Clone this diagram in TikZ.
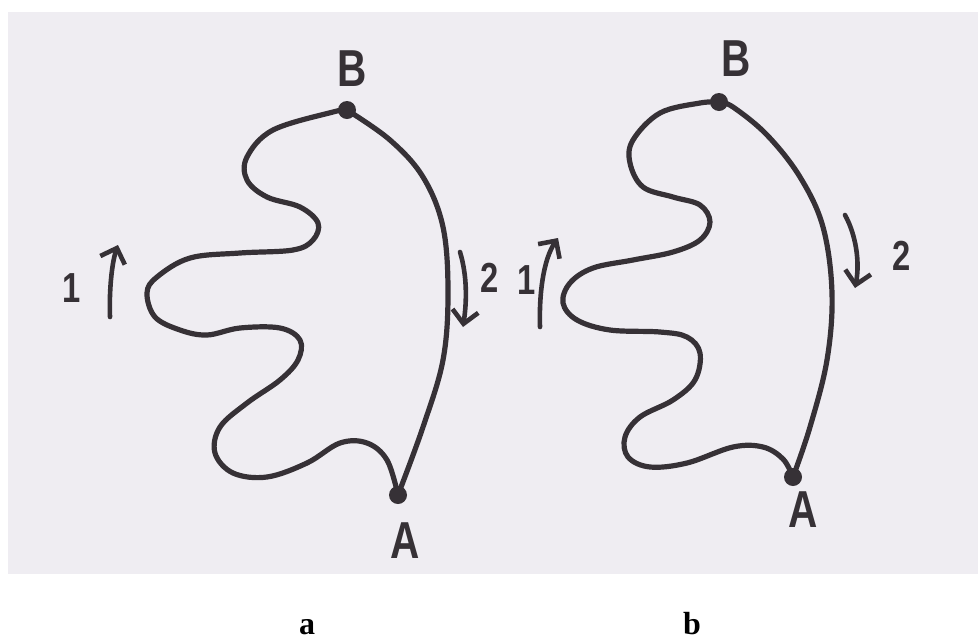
\documentclass[tikz,border=0pt]{standalone}
\usepackage{fontspec}
\setmainfont{Liberation Serif}
\newfontfamily\handfont[FakeStretch=0.78]{Liberation Sans}
\usepackage{tikz}
\usetikzlibrary{arrows.meta,positioning}
\definecolor{paperbg}{HTML}{EFEDF2}
\definecolor{ink}{HTML}{363136}
\tikzset{
  sketch/.style={
    x=1pt, y=-1pt,
    line cap=round,
    line join=round
  },
  loopline/.style={draw=ink, line width=5.2pt},
  enddot/.style={
    circle,
    fill=ink,
    minimum size=18pt,
    inner sep=0pt
  },
  handlabel/.style={
    font=\handfont\bfseries\fontsize{52}{52}\selectfont,
    text=ink,
    inner sep=0pt
  },
  numlabel/.style={
    font=\handfont\bfseries\fontsize{42}{42}\selectfont,
    text=ink,
    inner sep=0pt
  },
  dirarrow/.style={
    draw=ink,
    line width=4.6pt,
    -{Straight Barb[length=13pt,width=26pt,line width=4.6pt]}
  },
  panelcaption/.style={
    font=\bfseries\fontsize{32}{32}\selectfont,
    inner sep=0pt,
    anchor=base
  }
}

\begin{document}
\begin{tikzpicture}[sketch]
\useasboundingbox (0,0) rectangle (978,641);
\fill[white] (0,0) rectangle (978,641);
\fill[paperbg] (8,12) rectangle (978,574);

% panel a
\coordinate (Ba) at (347,110);
\coordinate (Aa) at (398,495);
\draw[loopline] plot[smooth, tension=0.6] coordinates {
  (Ba) (333,112) (273,130) (247,157) (247,180) (267,197) (300,207)
  (318,223) (313,240) (293,250) (240,253) (190,258) (157,277)
  (147,293) (155,317) (180,330) (207,335) (240,328) (280,328)
  (300,340) (298,360) (280,380) (247,403) (220,427) (215,453)
  (233,473) (267,477) (307,463) (340,443) (367,443) (387,460) (Aa)};
\draw[loopline] plot[smooth, tension=0.6] coordinates {
  (Ba) (390,140) (423,177) (443,227) (448,293) (443,360) (423,427) (Aa)};
\node[enddot] (dotBa) at (Ba) {};
\node[enddot] (dotAa) at (Aa) {};
\node[handlabel, above=14pt of dotBa, xshift=5pt] (labBa) {B};
\node[handlabel, below=18pt of dotAa, xshift=7pt] (labAa) {A};

\coordinate (oneAtail) at (110,317);
\coordinate (oneAtip) at (118,245);
\draw[dirarrow] (oneAtail) .. controls (109,290) and (112,262) .. (oneAtip);
\node[numlabel] (numOneA) at (72,288) {1};
\coordinate (twoAtail) at (460,252);
\coordinate (twoAtip) at (463,327);
\draw[dirarrow] (twoAtail) .. controls (467,275) and (467,300) .. (twoAtip);
\node[numlabel] (numTwoA) at (490,278) {2};

% panel b
\coordinate (Bb) at (719,102);
\coordinate (Ab) at (793,477);
\draw[loopline] plot[smooth, tension=0.6] coordinates {
  (Bb) (700,103) (660,113) (633,140) (630,163) (643,187) (673,197)
  (700,205) (710,222) (700,240) (673,252) (633,260) (593,268)
  (570,283) (563,303) (577,320) (610,330) (660,332) (687,337)
  (700,353) (695,380) (673,400) (640,417) (625,437) (628,457)
  (650,467) (687,463) (733,447) (763,447) (783,459) (Ab)};
\draw[loopline] plot[smooth, tension=0.6] coordinates {
  (Bb) (733,107) (767,135) (800,177) (823,227) (832,293) (827,360) (810,427) (Ab)};
\node[enddot] (dotBb) at (Bb) {};
\node[enddot] (dotAb) at (Ab) {};
\node[handlabel, above=16pt of dotBb, xshift=17pt] (labBb) {B};
\node[handlabel, below=5pt of dotAb, xshift=10pt] (labAb) {A};

\coordinate (oneBtail) at (540,327);
\coordinate (oneBtip) at (558,238);
\draw[dirarrow] (oneBtail) .. controls (539,295) and (543,260) .. (oneBtip);
\node[numlabel] (numOneB) at (527,280) {1};
\coordinate (twoBtail) at (845,215);
\coordinate (twoBtip) at (855,288);
\draw[dirarrow] (twoBtail) .. controls (856,235) and (860,262) .. (twoBtip);
\node[numlabel] (numTwoB) at (902,256) {2};

% captions
\node[panelcaption] (capA) at (307,634) {a};
\node[panelcaption] (capB) at (692,634) {b};
\end{tikzpicture}
\end{document}
